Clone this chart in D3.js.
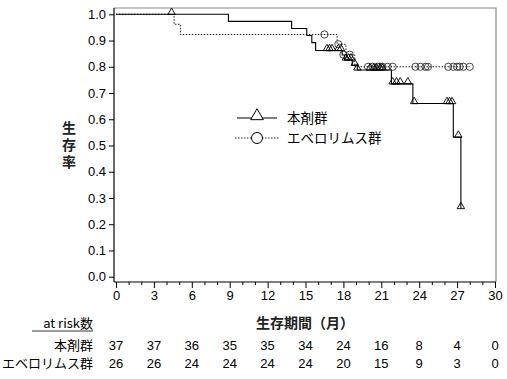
<!DOCTYPE html>
<html><head><meta charset="utf-8">
<script src="https://cdn.jsdelivr.net/npm/d3@7"></script>
<style>body{margin:0;background:#fff}svg{display:block}</style>
</head><body>
<svg id="c" width="507" height="379"></svg>
<script>
// ---- data ----
const groupNames = ["本剤群", "エベロリムス群"];
// Kaplan-Meier steps: [month, survival]
const stepsA = [[0,1],[8.9,0.973],[13.9,0.946],[15.1,0.919],[15.5,0.892],[15.8,0.862],[17.9,0.845],[18.1,0.826],[18.7,0.806],[19.1,0.788],[21.8,0.735],[23.5,0.66],[26.7,0.532],[27.3,0.26]];
const censorA = [[4.4,1],[16.7,0.862],[16.9,0.862],[17.1,0.862],[17.6,0.862],[17.8,0.862],[18.2,0.826],[18.4,0.826],[18.6,0.826],[18.9,0.806],[19.1,0.788],[20.1,0.788],[20.4,0.788],[20.6,0.788],[20.9,0.788],[21.1,0.788],[21.9,0.735],[22.2,0.735],[22.5,0.735],[23.1,0.735],[23.6,0.66],[26.2,0.66],[26.4,0.66],[26.6,0.66],[27.1,0.532],[27.3,0.26]];
const stepsB = [[0,1],[4.6,0.962],[5.1,0.923],[17.5,0.886],[18.2,0.846],[18.9,0.80],[28.0,0.80]];
const censorB = [[16.5,0.923],[17.6,0.886],[18.0,0.846],[18.5,0.846],[19.95,0.80],[20.3,0.80],[20.7,0.80],[20.9,0.80],[21.1,0.80],[21.5,0.80],[21.9,0.80],[23.7,0.80],[24.1,0.80],[24.5,0.80],[24.7,0.80],[26.3,0.80],[26.7,0.80],[27.0,0.80],[27.2,0.80],[27.5,0.80],[28.0,0.80]];
const xTicks = [0,3,6,9,12,15,18,21,24,27,30];
const yTicks = [0,0.1,0.2,0.3,0.4,0.5,0.6,0.7,0.8,0.9,1.0];
const atRiskA = [37,37,36,35,35,34,24,16,8,4,0];
const atRiskB = [26,26,24,24,24,24,20,15,9,3,0];

// ---- drawing ----
const svg = d3.select("#c");
const FONT = "'Liberation Sans','Noto Sans CJK JP',Arial,sans-serif";
const JFONT = "'Noto Sans CJK JP','Liberation Sans',sans-serif";
const x = d3.scaleLinear().domain([0,30]).range([116,495]);
const y = d3.scaleLinear().domain([0,1]).range([276.7,14.3]);
const L=114, R=496, T=8, B=282;

// frame top/right gray
svg.append("path").attr("d",`M${L},${T}H${R}V${B}`).attr("fill","none").attr("stroke","#8a8a8a").attr("stroke-width",1.2);

// y axis
const yAxis = d3.axisLeft(y).tickValues(yTicks).tickFormat(d3.format(".1f")).tickSize(5).tickPadding(3);
const gy = svg.append("g").attr("transform",`translate(${L},0)`).call(yAxis);
gy.select(".domain").remove();
gy.selectAll("text").attr("font-family",FONT).attr("font-size",13).attr("fill","#000");
gy.selectAll("line").attr("stroke","#000");
svg.append("line").attr("x1",L).attr("x2",L).attr("y1",T).attr("y2",B).attr("stroke","#000").attr("stroke-width",1.2);

// x axis minor + major
const minor = d3.range(0,31).filter(d=>d%3!==0);
const gxm = svg.append("g").attr("transform",`translate(0,${B})`).call(d3.axisBottom(x).tickValues(minor).tickSize(3).tickFormat(""));
gxm.select(".domain").remove();
const gx = svg.append("g").attr("transform",`translate(0,${B})`).call(d3.axisBottom(x).tickValues(xTicks).tickSize(6).tickPadding(3));
gx.select(".domain").remove();
gx.selectAll("text").attr("font-family",FONT).attr("font-size",13).attr("fill","#000");
svg.selectAll(".tick line").attr("stroke","#000");
svg.append("line").attr("x1",L).attr("x2",R).attr("y1",B).attr("y2",B).attr("stroke","#000").attr("stroke-width",1.2);

// curves
const line = d3.line().x(d=>x(d[0])).y(d=>y(d[1])).curve(d3.curveStepAfter);
svg.append("path").attr("d",line(stepsB)).attr("fill","none").attr("stroke","#222").attr("stroke-width",1).attr("stroke-dasharray","1.5,1.5");
svg.append("path").attr("d",line(stepsA)).attr("fill","none").attr("stroke","#000").attr("stroke-width",1.1);

const tri = d3.symbol().type(d3.symbolTriangle).size(24);
svg.append("g").selectAll("circle").data(censorB).join("circle")
  .attr("cx",d=>x(d[0])).attr("cy",d=>y(d[1])).attr("r",3.6)
  .attr("fill","none").attr("stroke","#333").attr("stroke-width",0.9);
svg.append("g").selectAll("path").data(censorA).join("path")
  .attr("d",tri).attr("transform",d=>`translate(${x(d[0])},${y(d[1])-2})`)
  .attr("fill","none").attr("stroke","#000").attr("stroke-width",0.9);

// legend
const lg = svg.append("g");
lg.append("line").attr("x1",237).attr("x2",277).attr("y1",118).attr("y2",118).attr("stroke","#000").attr("stroke-width",1.1);
lg.append("path").attr("d",d3.symbol().type(d3.symbolTriangle).size(70)).attr("transform","translate(257,116)").attr("fill","#fff").attr("stroke","#000").attr("stroke-width",1);
lg.append("text").attr("x",287).attr("y",123).text(groupNames[0]).attr("font-family",JFONT).attr("font-size",13.5);
lg.append("line").attr("x1",235).attr("x2",279).attr("y1",138).attr("y2",138).attr("stroke","#222").attr("stroke-width",1).attr("stroke-dasharray","1.5,1.5");
lg.append("circle").attr("cx",257).attr("cy",138).attr("r",5.5).attr("fill","#fff").attr("stroke","#000").attr("stroke-width",1);
lg.append("text").attr("x",287).attr("y",143).text(groupNames[1]).attr("font-family",JFONT).attr("font-size",13.5);

// y label vertical (single text, vertical writing mode)
svg.append("text").attr("x",69).attr("y",121).text("生存率")
  .attr("writing-mode","vertical-rl").style("writing-mode","vertical-rl")
  .attr("letter-spacing",3)
  .attr("font-family",JFONT).attr("font-size",14).attr("font-weight","bold").attr("fill","#222");
// x label
svg.append("text").attr("x",305).attr("y",328).attr("text-anchor","middle").text("生存期間（月）")
  .attr("font-family",JFONT).attr("font-size",14).attr("font-weight","bold").attr("fill","#222");

// at risk table
svg.append("text").attr("x",93).attr("y",328).attr("text-anchor","end").text("at risk数")
  .attr("font-family",JFONT).attr("font-size",13);
svg.append("line").attr("x1",32).attr("x2",93).attr("y1",331).attr("y2",331).attr("stroke","#000").attr("stroke-width",0.8);
[[groupNames[0],atRiskA,350],[groupNames[1],atRiskB,368]].forEach(([nm,arr,yy])=>{
  svg.append("text").attr("x",93).attr("y",yy).attr("text-anchor","end").text(nm).attr("font-family",JFONT).attr("font-size",13);
  svg.append("g").selectAll("text").data(arr).join("text")
    .attr("x",(d,i)=>x(xTicks[i])).attr("y",yy).attr("text-anchor","middle").text(d=>d)
    .attr("font-family",FONT).attr("font-size",13);
});
</script>
</body></html>
